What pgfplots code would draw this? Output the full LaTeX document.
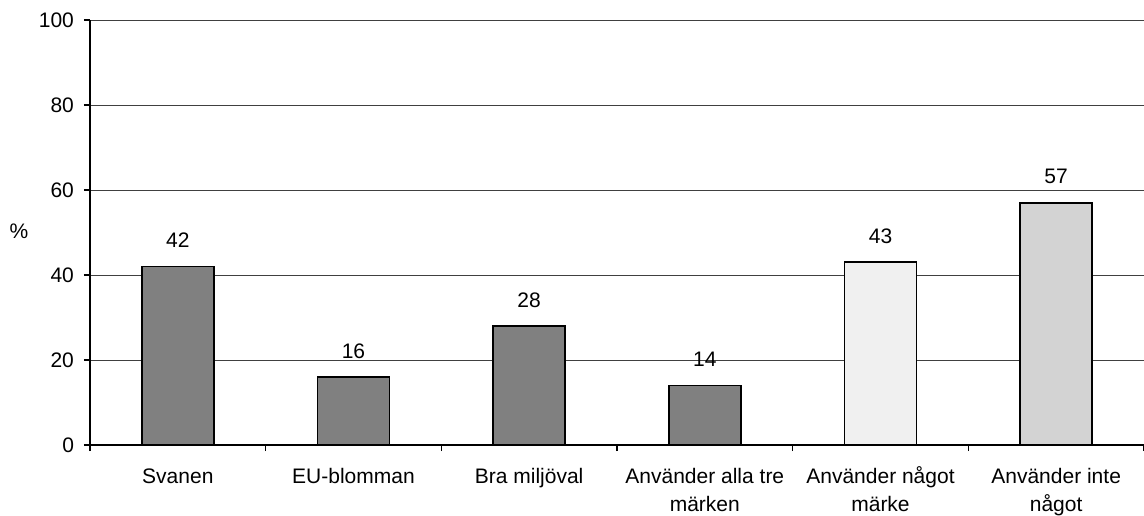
\documentclass[border=0pt]{standalone}
\usepackage{fontspec}
\setmainfont{Liberation Sans}
\usepackage{pgfplots}
\pgfplotsset{compat=1.18}
\definecolor{barDark}{HTML}{808080}
\definecolor{barLight}{HTML}{F0F0F0}
\definecolor{barMid}{HTML}{D3D3D3}

\begin{document}
\begin{tikzpicture}
\useasboundingbox (-45pt,-35pt) rectangle (527pt,222.5pt);
\begin{axis}[
  at={(0,0)}, anchor=south west,
  scale only axis, width=527pt, height=212.5pt,
  xmin=-0.5, xmax=5.5, ymin=0, ymax=100,
  axis lines*=left,
  axis line style={black, line width=0.8pt},
  ytick={0,20,...,100},
  ymajorgrids, grid style={black!75, line width=0.5pt},
  tick align=outside, major tick length=3pt,
  tick style={black, line width=0.6pt},
  xtick={0,...,5},
  % every label has two lines so that the last baselines line up
  xticklabels={Svanen\\\mbox{}, EU-blomman\\\mbox{}, Bra miljöval\\\mbox{}, Använder alla tre\\märken, Använder något\\märke, Använder inte\\något},
  xtick style={draw=none},
  extra x ticks={-0.5,0.5,...,5.5},
  extra x tick labels={},
  extra x tick style={grid=none, xtick style={draw=black}},
  font=\fontsize{10.5}{12}\selectfont,
  x tick label style={align=center, font=\fontsize{10.5}{14}\selectfont, anchor=base, yshift=-30pt},
  y tick label style={xshift=-1.5pt},
  /pgf/number format/assume math mode=true,
  ylabel={\%},
  ylabel style={rotate=-90, at={(axis description cs:-0.0674,0.5035)}, anchor=center},
  ybar, bar width=0.41, bar shift=0pt,
  nodes near coords,
  nodes near coords style={anchor=base, yshift=9.5pt, black},
  every axis plot/.append style={draw=black, line width=0.9pt},
]
\addplot[fill=barDark] coordinates {(0,42) (1,16) (2,28) (3,14)};
\addplot[fill=barLight] coordinates {(4,43)};
\addplot[fill=barMid] coordinates {(5,57)};
\end{axis}
\end{tikzpicture}
\end{document}
